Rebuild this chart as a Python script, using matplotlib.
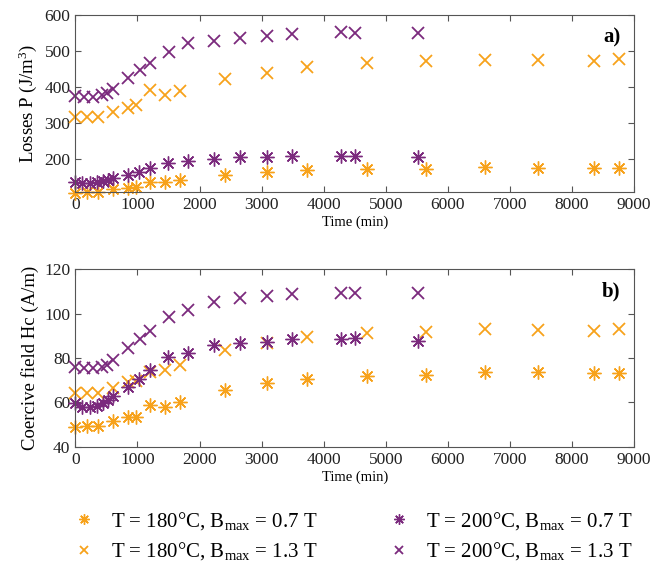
import numpy as np
import matplotlib.pyplot as plt

plt.rcParams.update({
    "font.family": "Liberation Serif",
    "mathtext.fontset": "custom",
    "mathtext.rm": "Liberation Serif",
    "mathtext.it": "Liberation Serif:italic",
    "mathtext.bf": "Liberation Serif:bold",
    "font.size": 10,
    "xtick.direction": "in",
    "ytick.direction": "in",
    "xtick.top": True,
    "ytick.right": True,
})

orange = '#f7a21b'
purple = '#7b2a7d'

# times (min)
t_180 = [0, 190, 370, 610, 850, 970, 1210, 1450, 1690, 2410, 3080, 3730,
         4690, 5650, 6600, 7450, 8350, 8760]
t_200_lo = [0, 100, 240, 345, 450, 530, 610, 850, 1020, 1210, 1500, 1810,
            2230, 2650, 3080, 3490, 4280, 4500, 5520]
t_200_hi = [0, 140, 280, 425, 505, 600, 850, 1040, 1210, 1510, 1810, 2230,
            2650, 3080, 3490, 4280, 4500, 5520]

# losses P (J/m^3)
P_180_07 = [107, 109, 109, 117, 120, 123, 136, 137, 142, 155, 164, 169,
            173, 172, 178, 175, 175, 177]
P_180_13 = [318, 318, 318, 330, 341, 350, 392, 378, 389, 422, 440, 456,
            466, 472, 475, 475, 471, 477]
P_200_07 = [138, 134, 135, 138, 141, 143, 148, 157, 166, 175, 189, 196,
            200, 206, 206, 209, 210, 210, 206]
P_200_13 = [375, 373, 373, 378, 383, 396, 425, 448, 468, 498, 521, 528,
            537, 542, 546, 552, 549, 549]

# coercive field Hc (A/m)
H_180_07 = [48.7, 49.3, 49.3, 51.7, 53.2, 53.5, 58.8, 57.8, 60.3, 65.6, 68.9,
            70.5, 71.9, 72.3, 73.8, 73.5, 73.1, 73.4]
H_180_13 = [64.2, 64.2, 64.2, 66.5, 69.0, 69.6, 73.5, 74.6, 76.8, 83.6, 86.6,
            89.6, 91.1, 91.9, 93.1, 92.6, 92.2, 93.1]
H_200_07 = [59.6, 57.9, 58.1, 58.4, 59.6, 61.1, 62.9, 67.1, 70.4, 74.6, 80.6,
            82.4, 85.9, 86.6, 87.4, 88.4, 88.6, 88.9, 87.8]
H_200_13 = [76.1, 75.6, 75.6, 76.1, 76.8, 79.3, 84.4, 88.4, 92.3, 98.6, 101.7,
            105.4, 107.2, 108.0, 109.0, 109.5, 109.5, 109.5]

labels = [r'T = 180°C, B$_{\mathrm{max}}$ = 0.7 T',
          r'T = 180°C, B$_{\mathrm{max}}$ = 1.3 T',
          r'T = 200°C, B$_{\mathrm{max}}$ = 0.7 T',
          r'T = 200°C, B$_{\mathrm{max}}$ = 1.3 T']

ast = (8, 2, 0)

fig = plt.figure(figsize=(6.69, 5.65), dpi=100)
ax1 = fig.add_axes([0.1126, 0.6607, 0.8354, 0.3128])
ax2 = fig.add_axes([0.1126, 0.2094, 0.8354, 0.3140])

for ax, d in [(ax1, (P_180_07, P_180_13, P_200_07, P_200_13)),
              (ax2, (H_180_07, H_180_13, H_200_07, H_200_13))]:
    ax.plot(t_180, d[0], ls='none', marker=ast, ms=10, mew=1.0, color=orange, clip_on=False, label=labels[0])
    ax.plot(t_180, d[1], ls='none', marker='x', ms=8, mew=1.3, color=orange, clip_on=False, label=labels[1])
    ax.plot(t_200_lo, d[2], ls='none', marker=ast, ms=10, mew=1.0, color=purple, clip_on=False, label=labels[2])
    ax.plot(t_200_hi, d[3], ls='none', marker='x', ms=8, mew=1.3, color=purple, clip_on=False, label=labels[3])
    ax.set_xlim(0, 9000)
    ax.set_xticks(np.arange(0, 9001, 1000))
    ax.set_xlabel('Time (min)', fontsize=10.5, labelpad=2)
    for s in ax.spines.values():
        s.set_color('#555555')
        s.set_linewidth(0.8)
    ax.tick_params(colors='#555555', labelcolor='#222222', labelsize=12.5, length=4)

ax1.set_ylim(110, 600)
ax1.set_yticks([200, 300, 400, 500, 600])
ax1.set_ylabel(r'Losses P (J/m$^3$)', fontsize=13.5, labelpad=4)
ax1.text(0.975, 0.93, 'a)', transform=ax1.transAxes, ha='right', va='top',
         fontsize=15, fontweight='bold')

ax2.set_ylim(40, 120)
ax2.set_yticks([40, 60, 80, 100, 120])
ax2.set_ylabel('Coercive field Hc (A/m)', fontsize=13.5, labelpad=4)
ax2.text(0.975, 0.93, 'b)', transform=ax2.transAxes, ha='right', va='top',
         fontsize=15, fontweight='bold')

h, l = ax2.get_legend_handles_labels()
leg = fig.legend(h, l, ncol=2, loc='upper left', bbox_to_anchor=(0.085, 0.13),
                 frameon=False, fontsize=15, handlelength=0.8, handletextpad=0.9,
                 columnspacing=3.5, labelspacing=0.4, markerscale=0.75)

fig.savefig('out.png', dpi=100)
